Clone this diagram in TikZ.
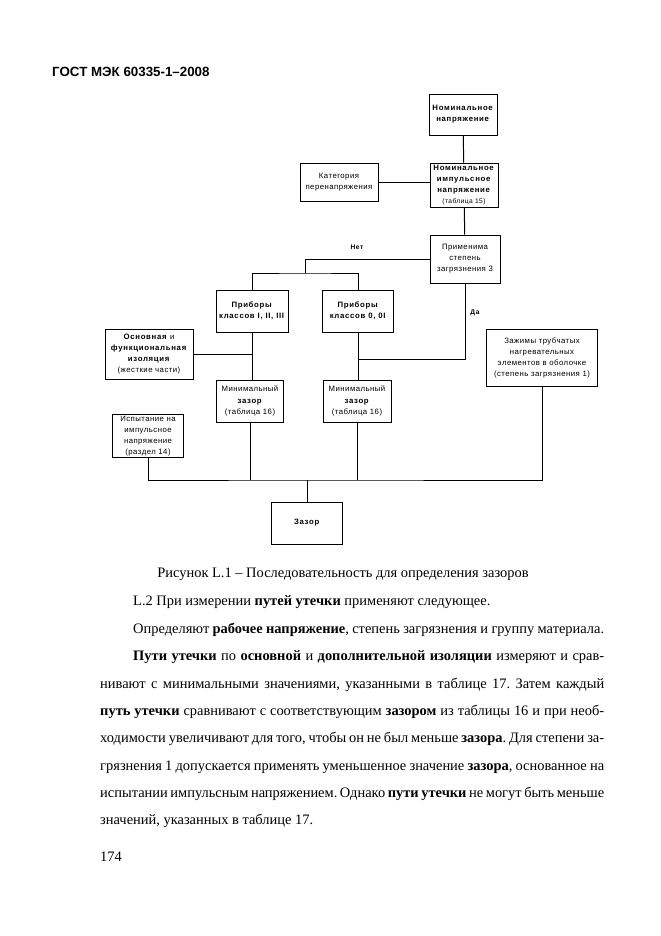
\documentclass[tikz,border=0pt]{standalone}
\usepackage{fontspec}
\setmainfont{Liberation Serif}
\newfontfamily\diagfont[LetterSpace=6, BoldFeatures={LetterSpace=9}]{Liberation Sans}
\newfontfamily\headfont{Liberation Sans}
\frenchspacing

\begin{document}
\begin{tikzpicture}[x=0.9pt, y=-0.9pt,
        box/.style={draw, line width=0.9pt, align=center, inner sep=1pt,
            font=\diagfont\fontsize{7}{10}\selectfont},
        boxsize/.style 2 args={minimum width=#1*0.9pt, minimum height=#2*0.9pt},
        link/.style={line width=0.9pt},
        tag/.style={inner sep=0pt, font=\diagfont\fontsize{6}{7}\selectfont\bfseries},
        textline/.style={anchor=base west, inner sep=0pt, font=\fontsize{13}{24}\selectfont}]
    \path[fill=white, use as bounding box] (0,0) rectangle (661,936);

    \node[anchor=base west, inner sep=0pt, font=\headfont\fontsize{12}{14}\selectfont\bfseries]
        (head) at (52,76.5) {ГОСТ МЭК 60335-1–2008};

    % boxes
    \node[box, boxsize={68}{41}] (nomvolt) at (463,114.5) {\textbf{Номинальное}\\\textbf{напряжение}};
    \node[box, boxsize={68}{44}] (impvolt) at (464,185) {\textbf{Номинальное}\\\textbf{импульсное}\\\textbf{напряжение}\\{\fontsize{6}{8}\selectfont(таблица 15)}};
    \node[box, boxsize={78}{38}] (overcat) at (339,182) {Категория\\перенапряжения};
    \node[box, boxsize={70}{48}] (poll3) at (465,259) {Применима\\степень\\загрязнения 3};
    \node[box, boxsize={72}{42}] (clsI) at (252,311) {\textbf{Приборы}\\\textbf{классов I, II, III}};
    \node[box, boxsize={71}{42}] (cls0) at (358,311) {\textbf{Приборы}\\\textbf{классов 0, 0I}};
    \node[box, boxsize={88}{50}] (basic) at (149,354) {\textbf{Основная} и\\\textbf{функциональная}\\\textbf{изоляция}\\(жесткие части)};
    \node[box, boxsize={111}{57}] (tube) at (542,358) {Зажимы трубчатых\\нагревательных\\элементов в оболочке\\(степень загрязнения 1)};
    \node[box, boxsize={67}{42}] (minI) at (250,401) {Минимальный\\\textbf{зазор}\\(таблица 16)};
    \node[box, boxsize={68}{42}] (min0) at (357,401) {Минимальный\\\textbf{зазор}\\(таблица 16)};
    \node[box, boxsize={71}{42}] (imptest) at (148,436) {Испытание на\\импульсное\\напряжение\\(раздел 14)};
    \node[box, boxsize={71}{42}] (clear) at (307,523) {\textbf{Зазор}};

    \coordinate (nobus) at (305,273);
    \coordinate (yesjoin) at (358,359);
    \coordinate (bus) at (307,480);

    % connectors
    \draw[link] (nomvolt) -- (impvolt);
    \draw[link] (overcat) -- (overcat -| impvolt.west);
    \draw[link] (impvolt) -- (poll3);
    \draw[link] (poll3.west) -| (nobus);
    \draw[link] (clsI.north) |- (nobus) -| (cls0.north);
    \draw[link] (poll3.south) |- (yesjoin);
    \draw[link] (clsI) -- (minI.north -| clsI.south);
    \draw[link] (basic.east) -- (basic.east -| clsI.south);
    \draw[link] (cls0) -- (min0.north -| cls0.south);
    \draw[link] (imptest.south) |- (bus) -| (tube.south);
    \draw[link] (minI.south) -- (minI.south |- bus);
    \draw[link] (min0.south) -- (min0.south |- bus);
    \draw[link] (bus) -- (clear.north);

    \node[tag] (no) at (357,247) {Нет};
    \node[tag] (yes) at (475,313) {Да};

    % text below the figure
    \node[textline, anchor=base] (caption) at (343,577.5) {Рисунок L.1 – Последовательность для определения зазоров};
    \node[textline] (lineA) at (133,605.5) {L.2 При измерении \textbf{путей утечки} применяют следующее.};
    \node[textline] (lineB) at (133,633) {\makebox[423.9pt][s]{Определяют \textbf{рабочее напряжение}, степень загрязнения и группу материала.}};
    \node[textline] (lineC) at (133,660) {\makebox[423.9pt][s]{\textbf{Пути утечки} по \textbf{основной} и \textbf{дополнительной изоляции} измеряют и срав-}};
    \node[textline] (lineD) at (100,688) {\makebox[453.6pt][s]{нивают с минимальными значениями, указанными в таблице 17. Затем каждый}};
    \node[textline] (lineE) at (100,715) {\makebox[453.6pt][s]{\textbf{путь утечки} сравнивают с соответствующим \textbf{зазором} из таблицы 16 и при необ-}};
    \node[textline] (lineF) at (100,742.5) {\makebox[453.6pt][s]{ходимости увеличивают для того, чтобы он не был меньше \textbf{зазора}. Для степени за-}};
    \node[textline] (lineG) at (100,770) {\makebox[453.6pt][s]{грязнения 1 допускается применять уменьшенное значение \textbf{зазора}, основанное на}};
    \node[textline] (lineH) at (100,797) {\makebox[453.6pt][s]{испытании импульсным напряжением. Однако \textbf{пути утечки} не могут быть меньше}};
    \node[textline] (lineI) at (100,824.5) {значений, указанных в таблице 17.};

    \node[textline] (pageno) at (100,861) {174};
\end{tikzpicture}
\end{document}
